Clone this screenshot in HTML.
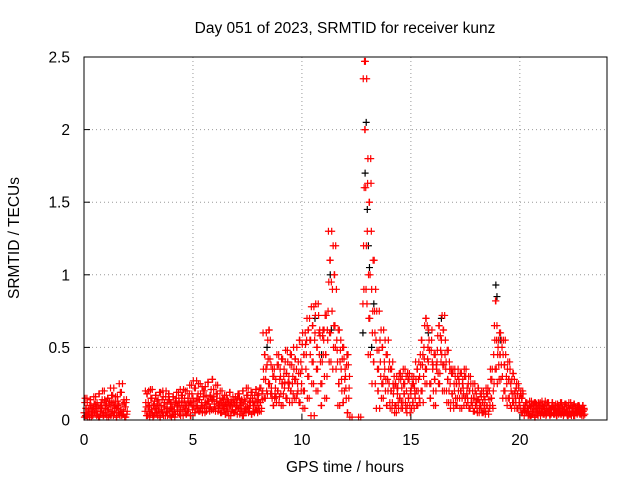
<!DOCTYPE html>
<html><head><meta charset="utf-8"><style>
html,body{margin:0;padding:0;background:#fff;}
svg{display:block;font-family:"Liberation Sans",sans-serif;}
</style></head><body>
<svg id="chart" width="640" height="480" viewBox="0 0 640 480">
<rect width="640" height="480" fill="#fff"/>
<text x="345" y="33" text-anchor="middle" font-size="15.5">Day 051 of 2023, SRMTID for receiver kunz</text>
<text x="345" y="472" text-anchor="middle" font-size="15.5">GPS time / hours</text>
<text transform="translate(19,238) rotate(-90)" text-anchor="middle" font-size="15.5">SRMTID / TECUs</text>
<g id="grid"></g><g id="ticks"></g><g id="black"></g><g id="red"></g>
<rect x="84" y="57" width="523" height="363" fill="none" stroke="#000" stroke-width="1"/>
</svg>
<script>
const xTicks=[0,5,10,15,20];
const yTicks=[0,0.5,1,1.5,2,2.5];
const yTickLabels=["0","0.5","1","1.5","2","2.5"];
const binStep=0.2;
// red series: values (hundredths of TECU) per 0.2h bin
const redBins=[
[5,12,3,8,15,2],[7,4,10,14,2,6],[3,9,11,5,16,8],[12,6,2,18,9,4],[8,14,5,3,20,10],
[4,11,7,15,2,13],[9,3,17,6,12,22],[5,13,8,2,16,10],[11,4,19,7,3,25],[6,14,2,9,12,4],
[],[],[],[],
[6,12,3,18,9,20],[10,4,15,7,21,2],[3,13,8,17,5,11],[14,6,19,2,10,7],[5,16,9,12,3,20],
[8,3,14,18,6,11],[12,7,4,16,9,2],[4,15,10,6,19,13],[9,3,17,12,7,21],[13,6,10,4,20,15],
[7,18,12,3,24,10],[15,9,22,5,13,27],[10,18,6,14,25,8],[12,5,20,16,9,23],[17,8,13,26,11,6],
[9,21,14,28,7,16],[11,6,18,13,24,9],[8,15,5,12,20,10],[14,7,11,4,17,9],[6,13,10,19,3,12],
[9,16,5,11,14,7],[12,4,18,8,15,10],[7,14,3,20,11,6],[13,5,17,9,22,8],[6,12,19,4,15,10],
[10,17,7,21,13,5],[14,8,22,12,6,18],[20,35,15,45,28,60],[38,55,25,62,42,18],[22,15,30,10,35,18],
[28,12,38,20,45,16],[35,18,42,25,10,30],[22,40,15,32,48,26],[30,12,45,20,38,25],[18,35,28,42,15,50],
[25,40,12,55,32,20],[35,60,20,45,8,52],[45,70,30,62,15,55],[55,78,40,65,25,3],[60,80,35,50,20,72],
[45,58,25,10,40,62],[55,30,72,45,15,62],[75,95,60,110,40,130],[90,120,65,100,50,35],[55,40,62,25,10,48],
[35,20,50,12,42,28],[30,15,45,5,38,22],[2],[],[2],
[80,120,160,200,247,90,235],[130,180,100,150,70,45,163],[90,60,110,40,75,25],[55,75,35,20,48,8],[40,62,25,50,15,30],
[35,20,45,10,28,55],[25,12,35,20,8,40],[18,30,10,25,5,22],[22,8,32,15,28,12],[30,12,25,18,35,8],
[20,10,28,15,32,5],[18,8,25,12,30,22],[15,28,10,35,20,40],[30,45,20,55,38,12],[50,65,35,70,25,42],
[40,55,25,15,48,62],[35,20,45,28,10,38],[40,58,25,65,32,48],[55,72,38,62,20,45],[35,20,48,28,12,40],
[25,12,32,18,35,8],[20,30,10,25,15,35],[28,15,32,20,8,25],[22,10,30,15,35,18],[15,25,8,20,30,12],
[12,20,6,15,25,10],[18,8,14,22,5,12],[10,16,5,12,20,8],[14,6,18,10,22,4],[20,10,28,15,35,8],
[45,65,35,82,55,25],[50,38,60,45,28,55],[30,45,20,38,55,15],[25,35,15,28,40,10],[20,28,12,32,18,8],
[15,22,8,18,25,12],[10,18,5,15,20,8],[3,8,12,5,10,6],[6,10,3,9,13,4],[4,9,12,2,7,11],
[8,3,10,6,12,5],[5,11,4,9,7,13],[3,8,12,6,10,4],[7,4,9,12,5,8],[4,10,6,3,11,7],
[9,5,12,4,8,6],[3,7,11,5,9,4],[6,10,4,8,12,3],[5,9,3,11,6,8],[7,4,10,6,9,5],[4,8,6,10,3,7]
];
// black series (t hours, value TECU)
const blackT=[12.9,12.95,13.0,13.1,13.05,11.3,11.35,18.9,18.95,12.8,13.2,10.6,8.4,13.3,15.8,16.4,19.1,10.9];
const blackV=[1.70,2.05,1.45,1.05,1.20,1.00,0.62,0.93,0.85,0.60,0.50,0.70,0.50,0.80,0.60,0.70,0.55,0.45];
const X0=84,X1=607,Y0=420,Y1=57,XMAX=24,YMAX=2.5;
const sx=t=>X0+t/XMAX*(X1-X0);
const sy=v=>Y0-v/YMAX*(Y0-Y1);
const NS="http://www.w3.org/2000/svg";
function mk(tag,attrs,parent){const e=document.createElementNS(NS,tag);for(const k in attrs)e.setAttribute(k,attrs[k]);parent.appendChild(e);return e;}
const grid=document.getElementById('grid'),ticks=document.getElementById('ticks');
xTicks.forEach(t=>{const x=sx(t);
 if(t>0){const g=mk('line',{x1:x,x2:x,y1:Y1,y2:Y0,stroke:'#999','stroke-dasharray':'1,3'},grid);
 
 }
 const tx=mk('text',{x:x,y:Y0+25,'text-anchor':'middle','font-size':15.5},ticks);tx.textContent=t;
 
 
 mk('line',{x1:x,x2:x,y1:Y0,y2:Y0-6,stroke:'#000'},ticks);
});
yTicks.forEach((v,i)=>{const y=sy(v);
 if(v>0){const g=mk('line',{x1:X0,x2:X1,y1:y,y2:y,stroke:'#999','stroke-dasharray':'1,3'},grid);
 
 }
 const tx=mk('text',{x:X0-14,y:y+5.5,'text-anchor':'end','font-size':15.5},ticks);tx.textContent=yTickLabels[i];
 
 
 mk('line',{x1:X0,x2:X0+6,y1:y,y2:y,stroke:'#000'},ticks);
});
function plus(x,y,col,parent){return mk('path',{d:`M${x-3.5},${y}h7M${x},${y-3.5}v7`,stroke:col,'stroke-width':1.2,fill:'none'},parent);}
const bg=document.getElementById('black');
blackT.forEach((t,i)=>{const p=plus(sx(t),sy(blackV[i]),'#000',bg);
 
 });
const rg=document.getElementById('red');
redBins.forEach((vals,i)=>{const n=vals.length;
 vals.forEach((v,j)=>{const t=i*binStep+j*binStep/n;
  const p=plus(sx(t),sy(v/100),'#f00',rg);
  
  
  const t2=i*binStep+(j+0.5)*binStep/n;
  const q=plus(sx(t2),sy(vals[n-1-j]/100),'#f00',rg);
  
  
 });});
</script>
</body></html>
